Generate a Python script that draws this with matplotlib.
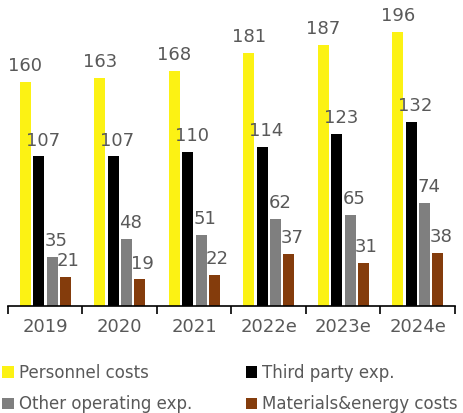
import numpy as np
import matplotlib.pyplot as plt
from matplotlib.patches import Patch

# Data
years = ['2019', '2020', '2021', '2022e', '2023e', '2024e']
personnel = [160, 163, 168, 181, 187, 196]
third_party = [107, 107, 110, 114, 123, 132]
other_operating = [35, 48, 51, 62, 65, 74]
materials_energy = [21, 19, 22, 37, 31, 38]
series_names = ['Personnel costs', 'Third party exp.',
                'Other operating exp.', 'Materials&energy costs']

colors = ['#FCF214', '#000000', '#7F7F7F', '#843C0C']
text_color = '#595959'

plt.rcParams['font.family'] = ['DejaVu Sans']

fig = plt.figure(figsize=(4.64, 4.13), dpi=100)
ax = fig.add_axes([8 / 464, 107 / 413, 447 / 464, 306 / 413])

x = np.arange(len(years))
slot = 0.179
width = 0.148
label_dx = [0, 3, 3, 2]  # labels of the inner bars sit a bit to the right
all_series = [personnel, third_party, other_operating, materials_energy]
for k, (vals, col) in enumerate(zip(all_series, colors)):
    pos = x + (k - 1.5) * slot + 0.003
    ax.bar(pos, vals, width=width, color=col, zorder=2)
    for px, v in zip(pos, vals):
        ax.annotate(str(v), (px, v), xytext=(label_dx[k], 5),
                    textcoords='offset points', ha='center', va='bottom',
                    fontsize=13, color=text_color)

ax.set_xlim(-0.5, len(years) - 0.5)
ax.set_ylim(0, 219)

# ticks sit on category boundaries, labels centred under the groups
ax.set_xticks(np.arange(len(years) + 1) - 0.5)
ax.set_xticklabels([])
ax.set_xticks(x, minor=True)
ax.set_xticklabels(years, minor=True, fontsize=13, color=text_color)
ax.tick_params(axis='x', which='major', direction='out', length=6,
               width=1.2, color='black')
ax.tick_params(axis='x', which='minor', length=0, pad=9)
ax.set_yticks([])

for side in ['top', 'right', 'left']:
    ax.spines[side].set_visible(False)
ax.spines['bottom'].set_color('black')
ax.spines['bottom'].set_linewidth(1.2)

# legend fills column by column, so reorder to read row-wise
order = [0, 2, 1, 3]
handles = [Patch(facecolor=colors[i], edgecolor='none') for i in order]
labels = [series_names[i] for i in order]
fig.legend(handles, labels, ncol=2, loc='upper left',
           bbox_to_anchor=(0.005, 49 / 413), frameon=False,
           fontsize=12, labelcolor=text_color,
           handlelength=0.7, handleheight=0.7, handletextpad=0.3,
           columnspacing=3.2, borderaxespad=0, borderpad=0,
           labelspacing=0.8)

fig.savefig('out.png', dpi=100)
